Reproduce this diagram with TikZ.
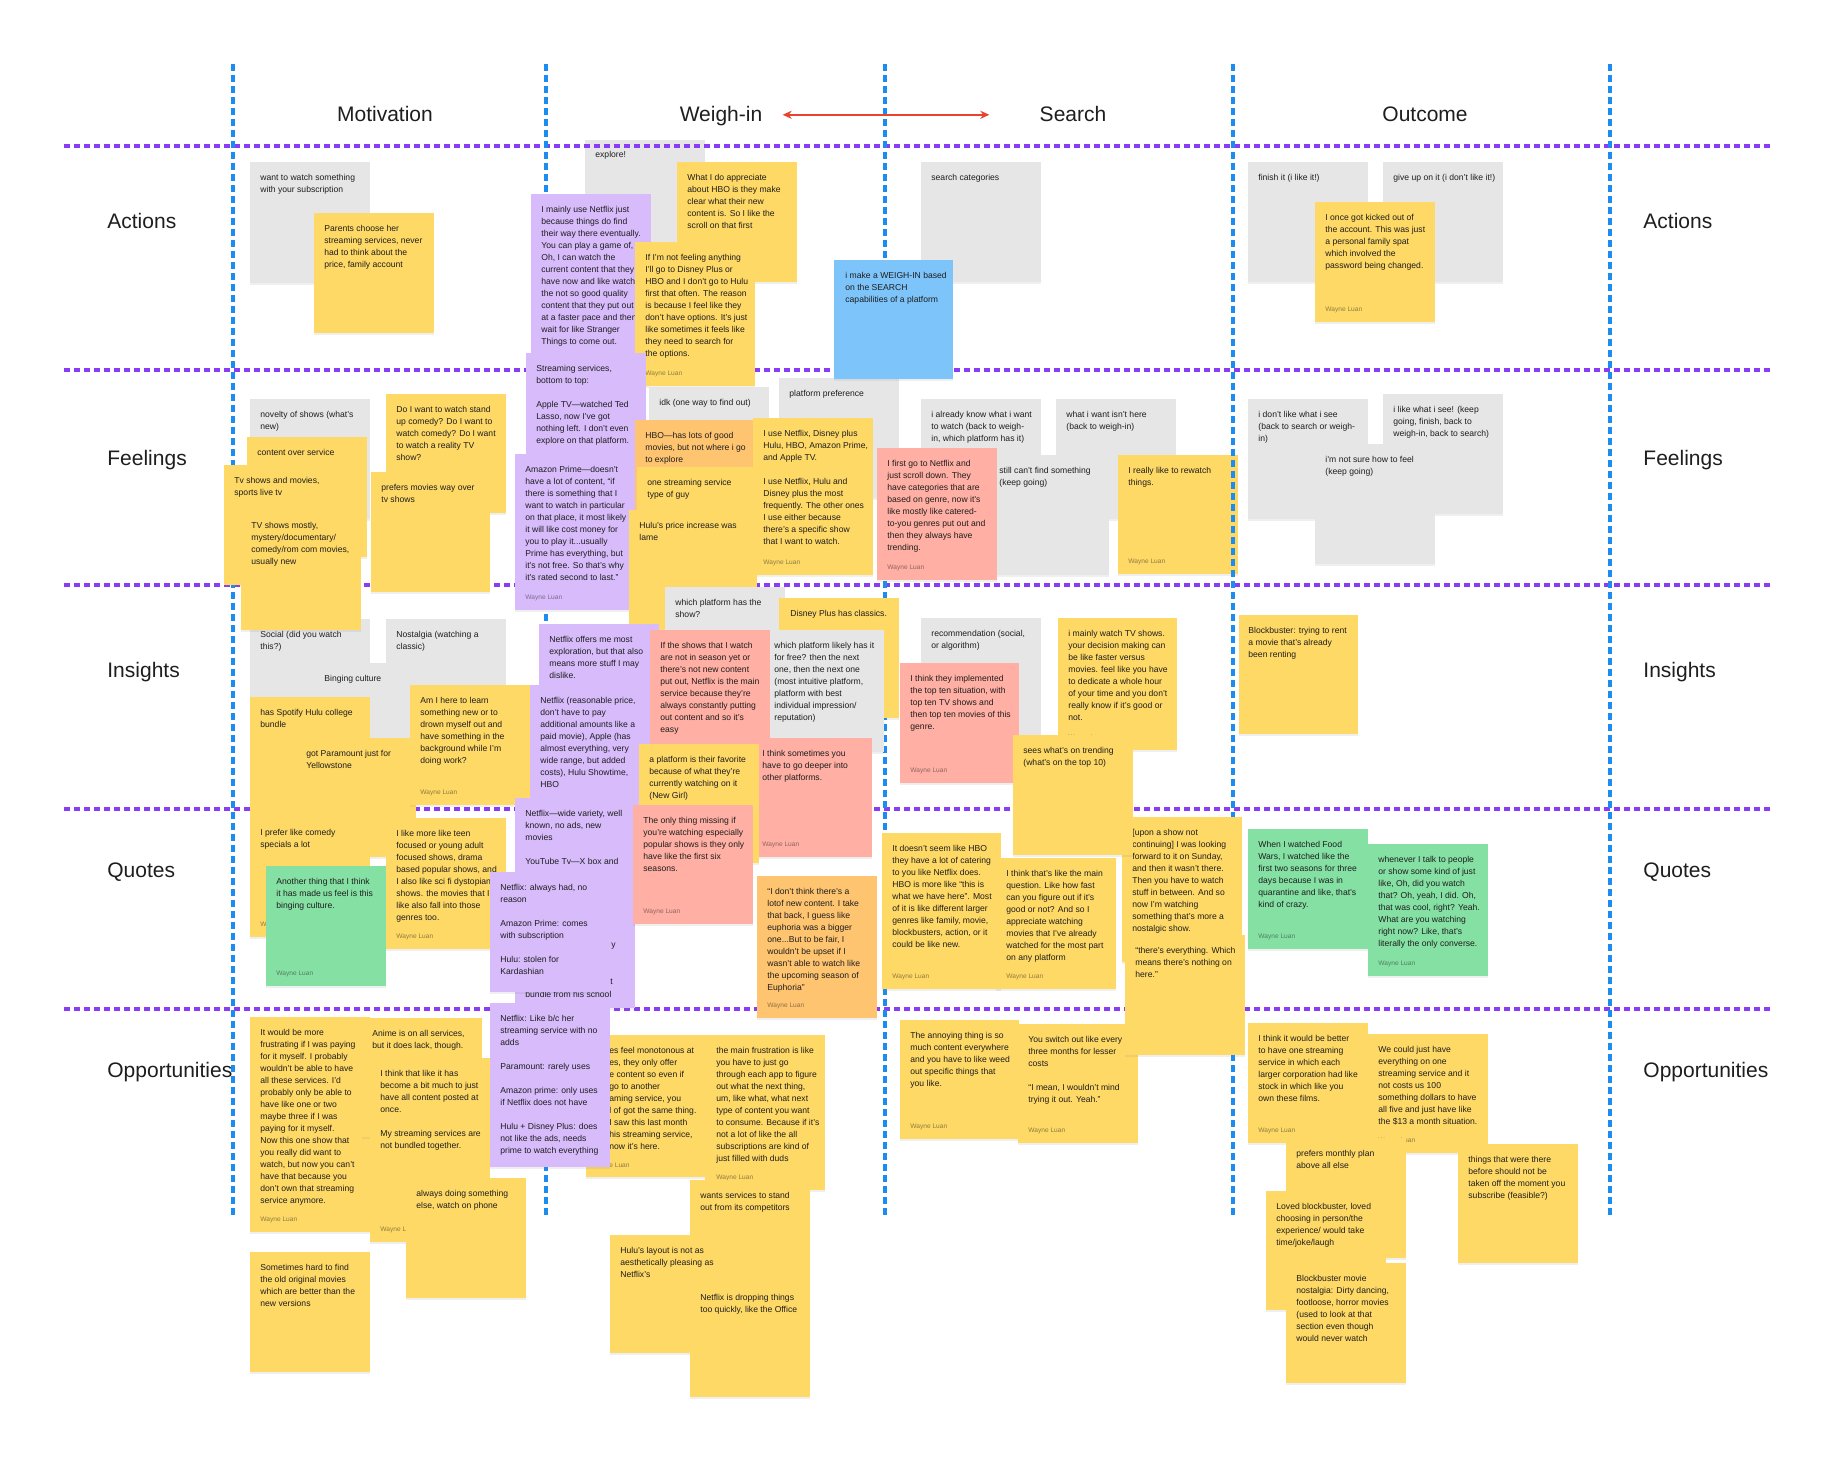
\documentclass[tikz,border=0pt]{standalone}
\usepackage{fontspec}
\setmainfont{Liberation Sans}
\usetikzlibrary{arrows.meta,shadows}
\definecolor{notegrey}{HTML}{E6E6E6}
\definecolor{noteyel}{HTML}{FFD966}
\definecolor{notepur}{HTML}{D7BBFB}
\definecolor{noteblue}{HTML}{7DC4FA}
\definecolor{notered}{HTML}{FFAFA3}
\definecolor{noteorange}{HTML}{FFC470}
\definecolor{notegreen}{HTML}{85E0A3}
\definecolor{rowpurple}{HTML}{8A3CF4}
\definecolor{colblue}{HTML}{1C8CF0}
\definecolor{arrowred}{HTML}{E8432E}
\definecolor{ink}{HTML}{1E1E1E}
\begin{document}
\begin{tikzpicture}[x=0.5pt, y=-0.5pt,
    rowline/.style={rowpurple, line width=1.7pt, dash pattern=on 3pt off 2pt},
    colline/.style={colblue, line width=1.6pt, dash pattern=on 3.5pt off 2pt},
    note/.style={drop shadow={opacity=0.12, shadow xshift=0pt, shadow yshift=-1.2pt}},
    txt/.style={anchor=north west, inner sep=0pt, align=left, text=ink, font=\fontsize{4.3}{6}\selectfont},
    sig/.style={anchor=south west, inner sep=0pt, text=ink, text opacity=0.5, font=\fontsize{3.3}{4}\selectfont},
    head/.style={anchor=base, inner sep=0pt, text=ink, font=\fontsize{10.5}{12}\selectfont},
    rowlab/.style={anchor=base west, inner sep=0pt, text=ink, font=\fontsize{10.5}{12}\selectfont}]
  \fill[white] (0,0) rectangle (1836,1470);
  % note lying under the grid
  \fill[notegrey, note] (585,140) rectangle ++(120,120);
  \node[txt] (w1) at (595,151) {explore!};
  % grid
  \foreach \gy in {146,370,585,809,1009} \draw[rowline] (64,\gy) -- (1772,\gy);
  \foreach \gx in {233,546,885,1233,1610} \draw[colline] (\gx,64) -- (\gx,1218);
  % headers
  \node[head] (motiv) at (385,122) {Motivation};
  \node[head] (weigh) at (721,122) {Weigh-in};
  \node[head] (search) at (1073,122) {Search};
  \node[head] (outcome) at (1425,122) {Outcome};
  \draw[arrowred, line width=1pt, {Stealth[length=4.5pt,width=4pt]}-{Stealth[length=4.5pt,width=4pt]}]
    ([xshift=10pt,yshift=3.6pt]weigh.base east) -- ([xshift=-25pt,yshift=3.6pt]search.base west);
  \node[rowlab] (lact) at (107,229) {Actions};
  \node[rowlab] (lfeel) at (107,466) {Feelings};
  \node[rowlab] (lins) at (107,677) {Insights};
  \node[rowlab] (lquo) at (107,877) {Quotes};
  \node[rowlab] (lopp) at (107,1077) {Opportunities};
  \node[rowlab] (ract) at (1643,229) {Actions};
  \node[rowlab] (rfeel) at (1643,466) {Feelings};
  \node[rowlab] (rins) at (1643,677) {Insights};
  \node[rowlab] (rquo) at (1643,877) {Quotes};
  \node[rowlab] (ropp) at (1643,1077) {Opportunities};
  % Motivation
  \fill[notegrey, note] (250,162) rectangle ++(120,121);
  \node[txt] (m1) at (260,174) {want to watch something\\with your subscription};
  \fill[noteyel, note] (314,213) rectangle ++(120,120);
  \node[txt] (m2) at (324,225) {Parents choose her\\streaming services, never\\had to think about the\\price, family account};
  \fill[notegrey, note] (250,399) rectangle ++(120,120);
  \node[txt] (m3) at (260,411) {novelty of shows (what's\\new)};
  \fill[notegrey, note] (250,619) rectangle ++(120,120);
  \node[txt] (m9) at (260,631) {Social (did you watch\\this?)};
  \fill[notegrey, note] (386,619) rectangle ++(120,120);
  \node[txt] (m10) at (396,631) {Nostalgia (watching a\\classic)};
  \fill[noteyel, note] (247,437) rectangle ++(120,120);
  \node[txt] (m4) at (257,449) {content over service};
  \fill[noteyel, note] (224,465) rectangle ++(120,120);
  \node[txt] (m5) at (234,477) {Tv shows and movies,\\sports live tv};
  \fill[noteyel, note] (241,510) rectangle ++(120,120);
  \node[txt] (m6) at (251,522) {TV shows mostly,\\mystery/documentary/\\comedy/rom com movies,\\usually new};
  \fill[noteyel, note] (386,394) rectangle ++(120,119);
  \node[txt] (m7) at (396,406) {Do I want to watch stand\\up comedy? Do I want to\\watch comedy? Do I want\\to watch a reality TV\\show?};
  \fill[noteyel, note] (371,472) rectangle ++(119,120);
  \node[txt] (m8) at (381,484) {prefers movies way over\\tv shows};
  \fill[notegrey, note] (314,663) rectangle ++(120,120);
  \node[txt] (m11) at (324,675) {Binging culture};
  \fill[noteyel, note] (250,697) rectangle ++(120,120);
  \node[txt] (m12) at (260,709) {has Spotify Hulu college\\bundle};
  \fill[noteyel, note] (296,738) rectangle ++(120,119);
  \node[txt] (m13) at (306,750) {got Paramount just for\\Yellowstone};
  \fill[noteyel, note] (410,685) rectangle ++(120,120);
  \node[txt] (m14) at (420,697) {Am I here to learn\\something new or to\\drown myself out and\\have something in the\\background while I'm\\doing work?};
  \node[sig] (m14s) at (420,796) {Wayne Luan};
  \fill[noteyel, note] (250,817) rectangle ++(120,120);
  \node[txt] (m15) at (260,829) {I prefer like comedy\\specials a lot};
  \node[sig] (m15s) at (260,928) {Wayne Luan};
  \fill[noteyel, note] (386,818) rectangle ++(120,131);
  \node[txt] (m16) at (396,830) {I like more like teen\\focused or young adult\\focused shows, drama\\based popular shows, and\\I also like sci fi dystopian\\shows. the movies that I\\like also fall into those\\genres too.};
  \node[sig] (m16s) at (396,940) {Wayne Luan};
  \fill[notegreen, note] (266,866) rectangle ++(120,120);
  \node[txt] (m17) at (276,878) {Another thing that I think\\it has made us feel is this\\binging culture.};
  \node[sig] (m17s) at (276,977) {Wayne Luan};
  \fill[noteyel, note] (250,1017) rectangle ++(120,215);
  \node[txt] (m18) at (260,1029) {It would be more\\frustrating if I was paying\\for it myself. I probably\\wouldn't be able to have\\all these services. I'd\\probably only be able to\\have like one or two\\maybe three if I was\\paying for it myself.\\Now this one show that\\you really did want to\\watch, but now you can't\\have that because you\\don't own that streaming\\service anymore.};
  \node[sig] (m18s) at (260,1223) {Wayne Luan};
  \fill[noteyel, note] (362,1018) rectangle ++(120,119);
  \node[txt] (m19) at (372,1030) {Anime is on all services,\\but it does lack, though.};
  \fill[noteyel, note] (370,1058) rectangle ++(120,184);
  \node[txt] (m20) at (380,1070) {I think that like it has\\become a bit much to just\\have all content posted at\\once.\\[6pt]My streaming services are\\not bundled together.};
  \node[sig] (m20s) at (380,1233) {Wayne Luan};
  \fill[noteyel, note] (406,1178) rectangle ++(120,120);
  \node[txt] (m21) at (416,1190) {always doing something\\else, watch on phone};
  \fill[noteyel, note] (250,1252) rectangle ++(120,120);
  \node[txt] (m22) at (260,1264) {Sometimes hard to find\\the old original movies\\which are better than the\\new versions};
  % Weigh-in
  \fill[noteyel, note] (677,162) rectangle ++(120,120);
  \node[txt] (w2) at (687,174) {What I do appreciate\\about HBO is they make\\clear what their new\\content is. So I like the\\scroll on that first};
  \fill[notepur, note] (531,194) rectangle ++(120,165);
  \node[txt] (w3) at (541,206) {I mainly use Netflix just\\because things do find\\their way there eventually.\\You can play a game of,\\Oh, I can watch the\\current content that they\\have now and like watch\\the not so good quality\\content that they put out\\at a faster pace and then\\wait for like Stranger\\Things to come out.};
  \fill[noteyel, note] (635,242) rectangle ++(120,144);
  \node[txt] (w4) at (645,254) {If I'm not feeling anything\\I'll go to Disney Plus or\\HBO and I don't go to Hulu\\first that often. The reason\\is because I feel like they\\don't have options. It's just\\like sometimes it feels like\\they need to search for\\the options.};
  \node[sig] (w4s) at (645,377) {Wayne Luan};
  \fill[notepur, note] (526,353) rectangle ++(120,120);
  \node[txt] (w5) at (536,365) {Streaming services,\\bottom to top:\\[6pt]Apple TV—watched Ted\\Lasso, now I've got\\nothing left. I don't even\\explore on that platform.};
  \fill[notegrey, note] (649,387) rectangle ++(120,120);
  \node[txt] (w6) at (659,399) {idk (one way to find out)};
  \fill[notegrey, note] (779,378) rectangle ++(120,120);
  \node[txt] (w7) at (789,390) {platform preference};
  \fill[noteorange, note] (635,420) rectangle ++(120,120);
  \node[txt] (w8) at (645,432) {HBO—has lots of good\\movies, but not where i go\\to explore};
  \fill[noteyel, note] (753,418) rectangle ++(120,157);
  \node[txt] (w9) at (763,430) {I use Netflix, Disney plus\\Hulu, HBO, Amazon Prime,\\and Apple TV.\\[6pt]I use Netflix, Hulu and\\Disney plus the most\\frequently. The other ones\\I use either because\\there's a specific show\\that I want to watch.};
  \node[sig] (w9s) at (763,566) {Wayne Luan};
  \fill[notepur, note] (515,454) rectangle ++(120,156);
  \node[txt] (w10) at (525,466) {Amazon Prime—doesn't\\have a lot of content, “if\\there is something that I\\want to watch in particular\\on that place, it most likely\\it will like cost money for\\you to play it...usually\\Prime has everything, but\\it's not free. So that's why\\it's rated second to last.”};
  \node[sig] (w10s) at (525,601) {Wayne Luan};
  \fill[noteyel, note] (637,467) rectangle ++(120,120);
  \node[txt] (w11) at (647,479) {one streaming service\\type of guy};
  \fill[noteyel, note] (629,510) rectangle ++(120,120);
  \node[txt] (w12) at (639,522) {Hulu's price increase was\\lame};
  \fill[notegrey, note] (665,587) rectangle ++(120,120);
  \node[txt] (w13) at (675,599) {which platform has the\\show?};
  \fill[noteyel, note] (779,598) rectangle ++(120,120);
  \node[txt] (w14) at (790,610) {Disney Plus has classics.};
  \fill[notegrey, note] (764,630) rectangle ++(120,122);
  \node[txt] (w17) at (774,642) {which platform likely has it\\for free? then the next\\one, then the next one\\(most intuitive platform,\\platform with best\\individual impression/\\reputation)};
  \fill[notepur, note] (539,624) rectangle ++(120,120);
  \node[txt] (w15) at (549,636) {Netflix offers me most\\exploration, but that also\\means more stuff I may\\dislike.};
  \fill[notered, note] (650,630) rectangle ++(120,130);
  \node[txt] (w16) at (660,642) {If the shows that I watch\\are not in season yet or\\there's not new content\\put out, Netflix is the main\\service because they're\\always constantly putting\\out content and so it's\\easy};
  \fill[notepur, note] (530,685) rectangle ++(120,120);
  \node[txt] (w18) at (540,697) {Netflix (reasonable price,\\don't have to pay\\additional amounts like a\\paid movie), Apple (has\\almost everything, very\\wide range, but added\\costs), Hulu Showtime,\\HBO};
  \fill[notered, note] (752,738) rectangle ++(120,119);
  \node[txt] (w19) at (762,750) {I think sometimes you\\have to go deeper into\\other platforms.};
  \node[sig] (w19s) at (762,848) {Wayne Luan};
  \fill[noteyel, note] (639,744) rectangle ++(120,119);
  \node[txt] (w20) at (649,756) {a platform is their favorite\\because of what they're\\currently watching on it\\(New Girl)};
  \fill[notepur, note] (515,798) rectangle ++(120,210);
  \node[txt] (w21) at (525,810) {Netflix—wide variety, well\\known, no ads, new\\movies\\[6pt]YouTube Tv—X box and};
  \node[txt] (w21y) at (611,943) {y};
  \node[txt] (w21t) at (610,979) {t};
  \node[txt] (w21b) at (525,991) {bundle from his school};
  \fill[notepur, note] (490,872) rectangle ++(120,120);
  \node[txt] (w22) at (500,884) {Netflix: always had, no\\reason\\[6pt]Amazon Prime: comes\\with subscription\\[6pt]Hulu: stolen for\\Kardashian};
  \fill[notered, note] (633,805) rectangle ++(120,119);
  \node[txt] (w23) at (643,817) {The only thing missing if\\you're watching especially\\popular shows is they only\\have like the first six\\seasons.};
  \node[sig] (w23s) at (643,915) {Wayne Luan};
  \fill[noteorange, note] (757,876) rectangle ++(120,142);
  \node[txt] (w24) at (767,888) {“I don't think there's a\\lotof new content. I take\\that back, I guess like\\euphoria was a bigger\\one...But to be fair, I\\wouldn't be upset if I\\wasn't able to watch like\\the upcoming season of\\Euphoria”};
  \node[sig] (w24s) at (767,1009) {Wayne Luan};
  \fill[noteyel, note] (586,1035) rectangle ++(120,142);
  \node[txt] (w26) at (609,1047) {es feel monotonous at\\es, they only offer\\e content so even if\\ go to another\\aming service, you\\l of got the same thing.\\ I saw this last month\\his streaming service,\\ now it's here.};
  \node[sig] (w26s) at (609,1168) {e Luan};
  \fill[notepur, note] (490,1003) rectangle ++(120,164);
  \node[txt] (w25) at (500,1015) {Netflix: Like b/c her\\streaming service with no\\adds\\[6pt]Paramount: rarely uses\\[6pt]Amazon prime: only uses\\if Netflix does not have\\[6pt]Hulu + Disney Plus: does\\not like the ads, needs\\prime to watch everything};
  \fill[noteyel, note] (705,1035) rectangle ++(120,155);
  \node[txt] (w27) at (716,1047) {the main frustration is like\\you have to just go\\through each app to figure\\out what the next thing,\\um, like what, what next\\type of content you want\\to consume. Because if it's\\not a lot of like the all\\subscriptions are kind of\\just filled with duds};
  \node[sig] (w27s) at (716,1181) {Wayne Luan};
  \fill[noteyel, note] (690,1180) rectangle ++(120,120);
  \node[txt] (w28) at (700,1192) {wants services to stand\\out from its competitors};
  \fill[noteyel, note] (610,1235) rectangle ++(120,118);
  \node[txt] (w29) at (620,1247) {Hulu's layout is not as\\aesthetically pleasing as\\Netflix's};
  \fill[noteyel, note] (690,1282) rectangle ++(120,115);
  \node[txt] (w30) at (700,1294) {Netflix is dropping things\\too quickly, like the Office};
  % Search
  \fill[notegrey, note] (921,162) rectangle ++(120,120);
  \node[txt] (s2) at (931,174) {search categories};
  \fill[noteblue, note] (834,260) rectangle ++(119,119);
  \node[txt] (s1) at (845,272) {i make a WEIGH-IN based\\on the SEARCH\\capabilities of a platform};
  \fill[notegrey, note] (921,399) rectangle ++(120,120);
  \node[txt] (s3) at (931,411) {i already know what i want\\to watch (back to weigh-\\in, which platform has it)};
  \fill[notegrey, note] (1056,399) rectangle ++(120,120);
  \node[txt] (s4) at (1066,411) {what i want isn't here\\(back to weigh-in)};
  \fill[notegrey, note] (989,455) rectangle ++(120,120);
  \node[txt] (s5) at (999,467) {still can't find something\\(keep going)};
  \fill[notered, note] (877,448) rectangle ++(120,132);
  \node[txt] (s6) at (887,460) {I first go to Netflix and\\just scroll down. They\\have categories that are\\based on genre, now it's\\like mostly like catered-\\to-you genres put out and\\then they always have\\trending.};
  \node[sig] (s6s) at (887,571) {Wayne Luan};
  \fill[noteyel, note] (1118,455) rectangle ++(120,119);
  \node[txt] (s7) at (1128,467) {I really like to rewatch\\things.};
  \node[sig] (s7s) at (1128,565) {Wayne Luan};
  \begin{scope}
    \clip (1118,455) rectangle ++(120,119);
    \draw[colline] (1233,64) -- (1233,1218);
  \end{scope}
  \fill[notegrey, note] (921,618) rectangle ++(120,120);
  \node[txt] (s8) at (931,630) {recommendation (social,\\or algorithm)};
  \fill[notered, note] (900,663) rectangle ++(119,120);
  \node[txt] (s9) at (910,675) {I think they implemented\\the top ten situation, with\\top ten TV shows and\\then top ten movies of this\\genre.};
  \node[sig] (s9s) at (910,774) {Wayne Luan};
  \fill[noteyel, note] (1058,618) rectangle ++(119,132);
  \node[txt] (s10) at (1068,630) {i mainly watch TV shows.\\your decision making can\\be like faster versus\\movies. feel like you have\\to dedicate a whole hour\\of your time and you don't\\really know if it's good or\\not.};
  \node[sig] (s10s) at (1068,741) {Wayne Luan};
  \fill[noteyel, note] (1122,817) rectangle ++(120,145);
  \node[txt] (s14) at (1132,829) {{[}upon a show not\\continuing] I was looking\\forward to it on Sunday,\\and then it wasn't there.\\Then you have to watch\\stuff in between. And so\\now I'm watching\\something that's more a\\nostalgic show.};
  \fill[noteyel, note] (1013,735) rectangle ++(120,120);
  \node[txt] (s11) at (1023,747) {sees what's on trending\\(what's on the top 10)};
  \fill[noteyel, note] (996,858) rectangle ++(120,131);
  \node[txt] (s12) at (1006,870) {I think that's like the main\\question. Like how fast\\can you figure out if it's\\good or not? And so I\\appreciate watching\\movies that I've already\\watched for the most part\\on any platform};
  \node[sig] (s12s) at (1006,980) {Wayne Luan};
  \fill[noteyel, note] (882,833) rectangle ++(119,156);
  \node[txt] (s13) at (892,845) {It doesn't seem like HBO\\they have a lot of catering\\to you like Netflix does.\\HBO is more like “this is\\what we have here”. Most\\of it is like different larger\\genres like family, movie,\\blockbusters, action, or it\\could be like new.};
  \node[sig] (s13s) at (892,980) {Wayne Luan};
  \fill[noteyel, note] (900,1020) rectangle ++(119,119);
  \node[txt] (s16) at (910,1032) {The annoying thing is so\\much content everywhere\\and you have to like weed\\out specific things that\\you like.};
  \node[sig] (s16s) at (910,1130) {Wayne Luan};
  \fill[noteyel, note] (1018,1024) rectangle ++(120,119);
  \node[txt] (s17) at (1028,1036) {You switch out like every\\three months for lesser\\costs\\[6pt]“I mean, I wouldn't mind\\trying it out. Yeah.”};
  \node[sig] (s17s) at (1028,1134) {Wayne Luan};
  \fill[noteyel, note] (1125,935) rectangle ++(120,120);
  \node[txt] (s15) at (1135,947) {“there's everything. Which\\means there's nothing on\\here.”};
  % Outcome
  \fill[notegrey, note] (1248,162) rectangle ++(120,120);
  \node[txt] (o1) at (1258,174) {finish it (i like it!)};
  \fill[notegrey, note] (1383,162) rectangle ++(120,120);
  \node[txt] (o2) at (1393,174) {give up on it (i don't like it!)};
  \fill[noteyel, note] (1315,202) rectangle ++(120,120);
  \node[txt] (o3) at (1325,214) {I once got kicked out of\\the account. This was just\\a personal family spat\\which involved the\\password being changed.};
  \node[sig] (o3s) at (1325,313) {Wayne Luan};
  \fill[notegrey, note] (1248,399) rectangle ++(120,120);
  \node[txt] (o4) at (1258,411) {i don't like what i see\\(back to search or weigh-\\in)};
  \fill[notegrey, note] (1383,394) rectangle ++(120,120);
  \node[txt] (o5) at (1393,406) {i like what i see! (keep\\going, finish, back to\\weigh-in, back to search)};
  \fill[notegrey, note] (1315,444) rectangle ++(120,120);
  \node[txt] (o6) at (1325,456) {i'm not sure how to feel\\(keep going)};
  \fill[noteyel, note] (1239,615) rectangle ++(119,119);
  \node[txt] (o7) at (1248,627) {Blockbuster: trying to rent\\a movie that's already\\been renting};
  \fill[notegreen, note] (1248,829) rectangle ++(120,120);
  \node[txt] (o8) at (1258,841) {When I watched Food\\Wars, I watched like the\\first two seasons for three\\days because I was in\\quarantine and like, that's\\kind of crazy.};
  \node[sig] (o8s) at (1258,940) {Wayne Luan};
  \fill[notegreen, note] (1368,844) rectangle ++(120,132);
  \node[txt] (o9) at (1378,856) {whenever I talk to people\\or show some kind of just\\like, Oh, did you watch\\that? Oh, yeah, I did. Oh,\\that was cool, right? Yeah.\\What are you watching\\right now? Like, that's\\literally the only converse.};
  \node[sig] (o9s) at (1378,967) {Wayne Luan};
  \fill[noteyel, note] (1248,1023) rectangle ++(120,120);
  \node[txt] (o10) at (1258,1035) {I think it would be better\\to have one streaming\\service in which each\\larger corporation had like\\stock in which like you\\own these films.};
  \node[sig] (o10s) at (1258,1134) {Wayne Luan};
  \fill[noteyel, note] (1368,1034) rectangle ++(120,119);
  \node[txt] (o11) at (1378,1046) {We could just have\\everything on one\\streaming service and it\\not costs us 100\\something dollars to have\\all five and just have like\\the \$13 a month situation.};
  \node[sig] (o11s) at (1378,1144) {Wayne Luan};
  \fill[noteyel, note] (1286,1138) rectangle ++(120,120);
  \node[txt] (o12) at (1296,1150) {prefers monthly plan\\above all else};
  \fill[noteyel, note] (1266,1191) rectangle ++(120,119);
  \node[txt] (o13) at (1276,1203) {Loved blockbuster, loved\\choosing in person/the\\experience/ would take\\time/joke/laugh};
  \fill[noteyel, note] (1286,1263) rectangle ++(120,120);
  \node[txt] (o14) at (1296,1275) {Blockbuster movie\\nostalgia: Dirty dancing,\\footloose, horror movies\\(used to look at that\\section even though\\would never watch};
  \fill[noteyel, note] (1458,1144) rectangle ++(120,119);
  \node[txt] (o15) at (1468,1156) {things that were there\\before should not be\\taken off the moment you\\subscribe (feasible?)};
\end{tikzpicture}
\end{document}
